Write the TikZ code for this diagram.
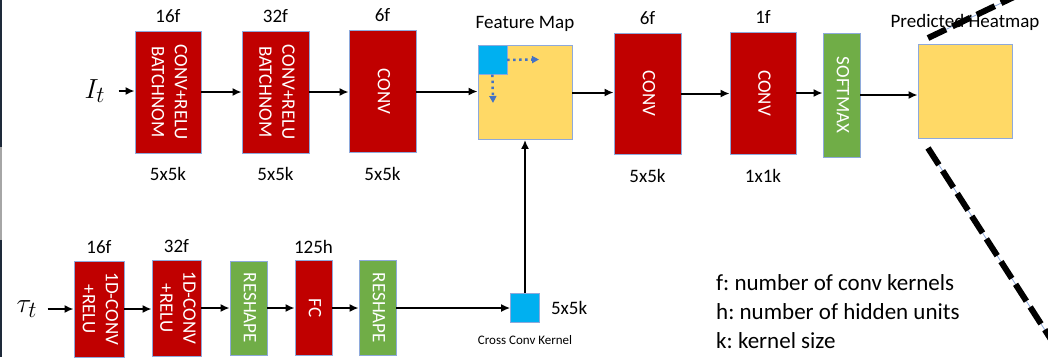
\documentclass[tikz,border=0pt]{standalone}
\usepackage{fontspec}
\setmainfont{Carlito}
\usepackage{xcolor}
\usetikzlibrary{arrows.meta,positioning}

\definecolor{convred}{HTML}{C00000}
\definecolor{opgreen}{HTML}{70AD47}
\definecolor{mapyellow}{HTML}{FFD966}
\definecolor{kerblue}{HTML}{00B0F0}
\definecolor{edgeblue}{HTML}{8EA9DB}
\definecolor{scanblue}{HTML}{4472C4}
\definecolor{slidedark}{HTML}{1E2A3A}

% vertical text inside the layer boxes
\newcommand{\turned}[1]{\rotatebox{-90}{\begin{tabular}{@{}c@{}}#1\end{tabular}}}
\frenchspacing

\begin{document}
\begin{tikzpicture}[
    x=1pt,
    y=-1pt,
    >={Latex[length=9pt,width=8pt]},
    every node/.style={font=\fontsize{19}{23}\selectfont},
    convbox/.style={fill=convred, draw=edgeblue, line width=0.8pt, text=white, inner sep=0pt},
    opbox/.style={fill=opgreen, draw=edgeblue, line width=0.8pt, text=white, inner sep=0pt},
    mapbox/.style={fill=mapyellow, draw=edgeblue, line width=0.8pt, minimum size=94pt, inner sep=0pt},
    kernbox/.style={fill=kerblue, draw=edgeblue, line width=0.6pt, minimum size=29pt, inner sep=0pt},
    lbl/.style={inner sep=0pt},
    flow/.style={->, line width=2pt},
    scan/.style={-{Triangle[length=7pt,width=7pt]}, scanblue, line width=2.5pt,
        dash pattern=on 2.5pt off 3.5pt},
    zoomline/.style={black, line width=6pt, dash pattern=on 20pt off 7pt}
]

\clip (0,0) rectangle (1048,357);
\fill[white] (0,0) rectangle (1048,357);

% slide edge
\fill[slidedark] (0,0) rectangle (2,147);
\fill[gray!70] (0,147) rectangle (2,240);
\fill[slidedark] (0,240) rectangle (2,357);

% Image branch
\node[lbl] (it) at (95,91) {\scalebox{1.6}{$I_t$}};
\node[convbox, minimum width=66pt, minimum height=122pt] (c1) at (168,92)
    {\turned{CONV+RELU\\BATCHNOM}};
\node[convbox, minimum width=67pt, minimum height=122pt] (c2) at (275.5,92)
    {\turned{CONV+RELU\\BATCHNOM}};
\node[convbox, minimum width=67pt, minimum height=122pt] (c3) at (382.5,91.5)
    {\turned{CONV}};

\node[mapbox] (fmap) at (525,92.5) {};
\node[kernbox, anchor=north west] (win) at (fmap.north west) {};
\coordinate (winr) at (539,59.5);
\coordinate (wind) at (493,103);

\node[convbox, minimum width=67pt, minimum height=121pt] (c4) at (647.5,93.5)
    {\turned{CONV}};
\node[convbox, minimum width=66pt, minimum height=122pt] (c5) at (763,93)
    {\turned{CONV}};
\node[opbox, minimum width=37pt, minimum height=124pt] (sm) at (841.5,95)
    {\turned{SOFTMAX}};
\node[mapbox] (hmap) at (965,91) {};

% filter counts and kernel sizes
\node[lbl, above=8pt of c1] (c1f) {16f};
\node[lbl, above=8pt of c2] (c2f) {32f};
\node[lbl, above=8pt of c3] (c3f) {6f};
\node[lbl, above=8pt of c4] (c4f) {6f};
\node[lbl, above=8pt of c5] (c5f) {1f};
\node[lbl, below=14pt of c1] (c1k) {5x5k};
\node[lbl, below=14pt of c2] (c2k) {5x5k};
\node[lbl, below=14pt of c3] (c3k) {5x5k};
\node[lbl, below=15pt of c4] (c4k) {5x5k};
\node[lbl, below=15pt of c5] (c5k) {1x1k};
\node[lbl, above=13pt of fmap] (fmapt) {Feature Map};
\node[lbl, above=13pt of hmap] (hmapt) {Predicted Heatmap};

% Trajectory branch
\node[lbl] (tau) at (27,309) {\scalebox{1.6}{$\tau_t$}};
\node[convbox, minimum width=50pt, minimum height=96pt] (d1) at (99,309)
    {\turned{1D-CONV\\+RELU}};
\node[convbox, minimum width=49pt, minimum height=96pt] (d2) at (176.5,308)
    {\turned{1D-CONV\\+RELU}};
\node[opbox, minimum width=37pt, minimum height=94pt] (r1) at (248.5,308)
    {\turned{RESHAPE}};
\node[convbox, minimum width=37pt, minimum height=95pt] (fc) at (313.5,308)
    {\turned{FC}};
\node[opbox, minimum width=37pt, minimum height=95pt] (r2) at (377.5,308)
    {\turned{RESHAPE}};
\node[kernbox] (kern) at (525,308) {};

\node[lbl, above=7pt of d1] (d1f) {16f};
\node[lbl, above=7pt of d2] (d2f) {32f};
\node[lbl, above=6pt of fc] (fch) {125h};
\node[lbl, right=11pt of kern] (kernk) {5x5k};
\node[lbl, below=12pt of kern, font=\fontsize{13}{15}\selectfont] (kernt) {Cross Conv Kernel};

% Legend
\node[lbl, anchor=north west, align=left, font=\fontsize{23}{29}\selectfont] (legend)
    at (716,274) {f: number of conv kernels\\h: number of hidden units\\k: kernel size};

% Connections
\draw[flow, shorten <=13pt] (it) -- (it -| c1.west);
\draw[flow] (c1) -- (c1 -| c2.west);
\draw[flow] (c2) -- (c2 -| c3.west);
\draw[flow] (c3) -- (c3 -| fmap.west);
\draw[flow] (fmap) -- (fmap -| c4.west);
\draw[flow] (c4) -- (c4 -| c5.west);
\draw[flow] (c5) -- (c5 -| sm.west);
\draw[flow] (sm) -- (sm -| hmap.west);

\draw[flow, shorten <=10pt] (tau) -- (tau -| d1.west);
\draw[flow] (d1) -- (d1 -| d2.west);
\draw[flow] (d2) -- (d2 -| r1.west);
\draw[flow] (r1) -- (r1 -| fc.west);
\draw[flow] (fc) -- (fc -| r2.west);
\draw[flow] (r2) -- (r2 -| kern.west);
\draw[flow] (kern) -- (fmap);

% sliding window
\draw[scan] (win.east) -- (winr);
\draw[scan] (win.south) -- (wind);

% zoom lines
\coordinate (zt0) at (928,38);
\coordinate (zt1) at (1016,-4);
\coordinate (zb0) at (928,148);
\coordinate (zb1) at (1052,341);
\draw[edgeblue, line width=0.8pt] (zt0) -- (zt1);
\draw[edgeblue, line width=0.8pt] (zb0) -- (zb1);
\draw[zoomline] (zt0) -- (zt1);
\draw[zoomline] (zb0) -- (zb1);

\end{tikzpicture}
\end{document}
